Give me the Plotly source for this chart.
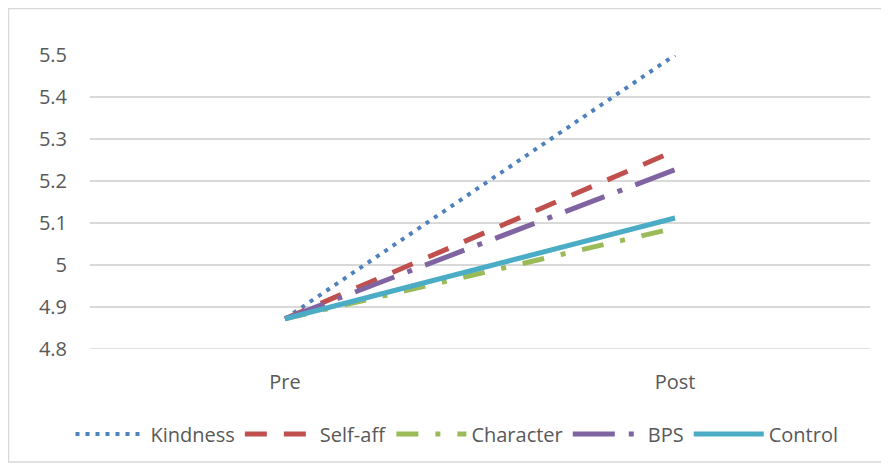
import plotly.graph_objects as go

categories = ["Pre", "Post"]
kindness = [4.872, 5.500]
self_aff = [4.872, 5.272]
character = [4.872, 5.088]
bps = [4.872, 5.227]
control = [4.872, 5.112]

series = [
    ("Kindness", kindness, "#4F81BD", 4, "4px,6px"),
    ("Self-aff", self_aff, "#C0504D", 5, "22px,17px"),
    ("Character", character, "#9BBB59", 5, "22px,17px,5px,17px"),
    ("BPS", bps, "#8064A2", 5, "42px,14px,5px,14px"),
    ("Control", control, "#4BACC6", 5, "solid"),
]

fig = go.Figure()
for name, vals, color, w, dash in series:
    fig.add_trace(go.Scatter(
        x=categories, y=vals, name=name, mode="lines",
        line=dict(color=color, width=w, dash=dash),
    ))

font_family = "Open Sans, Lato, sans-serif"
fig.update_layout(
    width=889, height=469,
    margin=dict(l=82, r=27, t=47, b=128, autoexpand=False),
    paper_bgcolor="white", plot_bgcolor="white",
    font=dict(family=font_family, size=20, color="#595959"),
    showlegend=True,
    legend=dict(orientation="h", x=(457 - 8) / 889, xanchor="center", xref="container",
                y=(469 - 426) / 469, yanchor="middle", yref="container",
                bgcolor="rgba(0,0,0,0)",
                itemwidth=70, font=dict(size=20, color="#595959"), traceorder="normal"),
    xaxis=dict(type="category", range=[-0.5, 1.5], showgrid=False, showline=False,
               zeroline=False, ticks="", ticklabelstandoff=19, automargin=False,
               tickfont=dict(size=20, color="#595959")),
    yaxis=dict(range=[4.8, 5.5], dtick=0.1, tick0=4.8, showgrid=True, gridcolor="#D9D9D9",
               gridwidth=1.5, zeroline=False, showline=False, ticks="", automargin=False,
               ticklabelstandoff=22, tickformat="~g",
               tickfont=dict(size=20, color="#595959")),
    shapes=[dict(type="rect", xref="paper", yref="paper",
                 x0=-0.1045, x1=1.0154, y0=-0.384, y1=1.158,
                 line=dict(color="#D9D9D9", width=1.5), fillcolor="rgba(0,0,0,0)", layer="below"),
            dict(type="line", xref="paper", yref="y", x0=0, x1=1, y0=4.8, y1=4.8,
                 line=dict(color="#D9D9D9", width=1.5), layer="below")],
)

fig.write_html("out.html")
